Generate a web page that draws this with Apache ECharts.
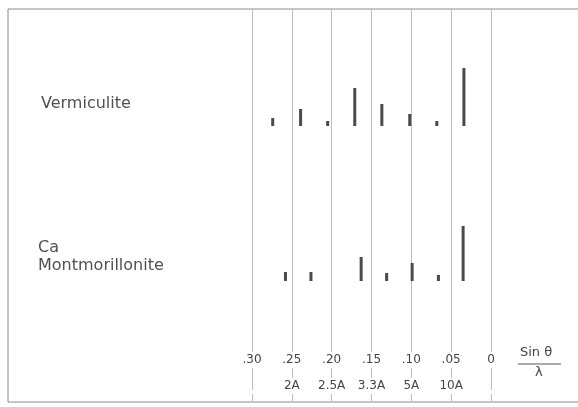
<!DOCTYPE html>
<html>
<head>
<meta charset="utf-8">
<script src="https://cdn.jsdelivr.net/npm/echarts@6/dist/echarts.min.js"></script>
<style>
html,body{margin:0;padding:0;background:#fff;}
#c{width:578px;height:407px;}
</style>
</head>
<body>
<div id="c"></div>
<script>
// sin(theta)/lambda tick values and labels
var sinTicks = [0, 0.05, 0.10, 0.15, 0.20, 0.25, 0.30];
var sinTickLabels = ['0', '.05', '.10', '.15', '.20', '.25', '.30'];
var dTickLabels = ['', '10A', '5A', '3.3A', '2.5A', '2A', ''];

// Vermiculite reflections
var vermSin = [0.274, 0.239, 0.205, 0.171, 0.137, 0.102, 0.068, 0.034];
var vermInt = [8, 17, 5, 38, 22, 12, 5, 58];

// Ca Montmorillonite reflections
var montSin = [0.258, 0.226, 0.163, 0.131, 0.099, 0.066, 0.035];
var montInt = [9, 9, 24, 8, 18, 6, 55];

var rowNames = ['Vermiculite', 'Ca\nMontmorillonite'];

function pairs(xs, ys) { return xs.map(function (x, i) { return [x, ys[i]]; }); }
function tickIndex(v) { return Math.round(v / 0.05); }

var FONT = 'DejaVu Sans';
var chart = echarts.init(document.getElementById('c'), null, {renderer: 'canvas'});

var gridL = 252, gridR = 87;
var xBase = {type: 'value', min: 0, max: 0.30, interval: 0.05, inverse: true};

var option = {
  backgroundColor: '#fff',
  animation: false,
  grid: [
    {left: gridL, right: gridR, top: 9, bottom: 5},
    {left: gridL, right: gridR, top: 66, height: 60},
    {left: gridL, right: gridR, top: 221, height: 60}
  ],
  xAxis: [
    Object.assign({}, xBase, {
      gridIndex: 0, position: 'bottom',
      axisLine: {show: false}, axisTick: {show: false},
      splitLine: {show: true, lineStyle: {color: '#bdbdbd', width: 1}},
      axisLabel: {
        inside: true, margin: 34, showMinLabel: true, showMaxLabel: true,
        fontFamily: FONT, fontSize: 12, color: '#444',
        backgroundColor: '#fff', padding: [2, 1, 2, 1],
        formatter: function (v) { return sinTickLabels[tickIndex(v)]; }
      }
    }),
    Object.assign({}, xBase, {
      gridIndex: 0, position: 'bottom',
      axisLine: {show: false}, axisTick: {show: false}, splitLine: {show: false},
      axisLabel: {
        inside: true, margin: 8, showMinLabel: true, showMaxLabel: true,
        fontFamily: FONT, fontSize: 12, color: '#444',
        backgroundColor: '#fff', padding: [2, 1, 2, 1],
        formatter: function (v) { return dTickLabels[tickIndex(v)]; }
      }
    }),
    Object.assign({}, xBase, {gridIndex: 1, show: false}),
    Object.assign({}, xBase, {gridIndex: 2, show: false})
  ],
  yAxis: [
    {type: 'value', gridIndex: 0, min: 0, max: 1, show: false},
    {type: 'value', gridIndex: 1, min: 0, max: 60, show: false},
    {type: 'value', gridIndex: 2, min: 0, max: 60, show: false}
  ],
  series: [
    {
      type: 'bar', name: 'Vermiculite', xAxisIndex: 2, yAxisIndex: 1,
      barWidth: 3, itemStyle: {color: '#4a4a4a'},
      data: pairs(vermSin, vermInt)
    },
    {
      type: 'bar', name: 'Ca Montmorillonite', xAxisIndex: 3, yAxisIndex: 2,
      barWidth: 3, itemStyle: {color: '#4a4a4a'},
      data: pairs(montSin, montInt)
    }
  ],
  graphic: [
    // frame
    {type: 'line', shape: {x1: 8, y1: 9, x2: 578, y2: 9}, style: {stroke: '#8a8a8a', lineWidth: 1}, silent: true},
    {type: 'line', shape: {x1: 8, y1: 9, x2: 8, y2: 402}, style: {stroke: '#8a8a8a', lineWidth: 1}, silent: true},
    {type: 'line', shape: {x1: 8, y1: 402, x2: 578, y2: 402}, style: {stroke: '#8a8a8a', lineWidth: 1}, silent: true},
    // row labels
    {type: 'text', left: 41, top: 96, style: {text: rowNames[0], font: '16px "' + FONT + '"', fill: '#505050'}},
    {type: 'text', left: 38, top: 239, style: {text: rowNames[1], font: '16px "' + FONT + '"', fill: '#505050', lineHeight: 18}},
    // axis title  sin(theta)/lambda
    {type: 'text', left: 520, top: 346, style: {text: 'Sin θ', font: '13px "' + FONT + '"', fill: '#444'}},
    {type: 'line', shape: {x1: 518, y1: 364, x2: 561, y2: 364}, style: {stroke: '#555', lineWidth: 1}},
    {type: 'text', left: 535, top: 366, style: {text: 'λ', font: '13px "' + FONT + '"', fill: '#444'}}
  ]
};
chart.setOption(option);
</script>
</body>
</html>
